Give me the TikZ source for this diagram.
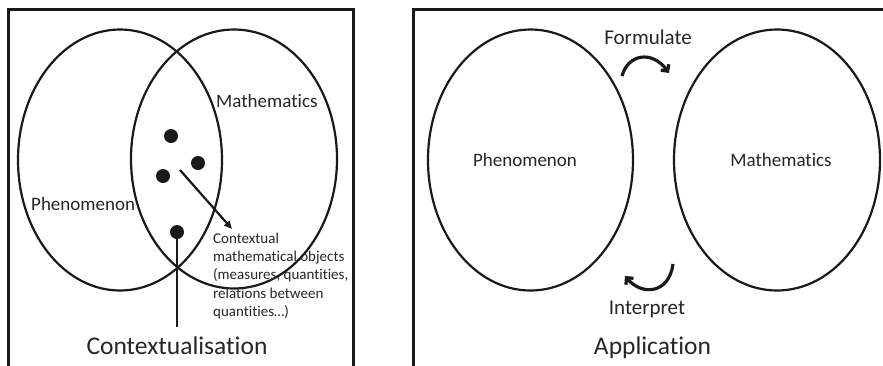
\documentclass[tikz,border=0pt]{standalone}
\usepackage{fontspec}
\setmainfont{Carlito}[Ligatures={NoCommon,NoRequired,NoContextual}]
\usetikzlibrary{shapes.geometric,arrows.meta}
\begin{document}
\begin{tikzpicture}[x=1pt,y=-1pt,
  frame/.style={line width=3pt, line join=miter, draw=black!90},
  blob/.style={ellipse, draw=black!90, line width=2.2pt, inner sep=0pt, outer sep=0pt},
  dotmark/.style={circle, fill=black!90, inner sep=0pt, minimum size=14pt},
  lbl/.style={font=\fontsize{19}{23}\selectfont, inner sep=0pt, text=black!85},
  small/.style={font=\fontsize{15}{18}\selectfont, inner sep=0pt, anchor=base west, text=black!85},
  verb/.style={font=\fontsize{21}{25}\selectfont, inner sep=0pt, anchor=base, text=black!85},
  title/.style={font=\fontsize{25.5}{30}\selectfont, inner sep=0pt, anchor=base, text=black!85},
  pointer/.style={line width=2.2pt, draw=black!90, -{Triangle[length=8pt,width=7pt]}},
  stem/.style={line width=2.8pt, draw=black!90},
  turn/.style={line width=3.2pt, draw=black!90, -{Straight Barb[angle=90:7pt,sharp]}}
]
\useasboundingbox (0,0) rectangle (883,365);
\clip (0,0) rectangle (883,365);
\fill[white] (0,0) rectangle (883,365);

% ---------- Contextualisation panel ----------
\draw[frame] (8,370) -- (8,9) -- (353,9) -- (353,370);

\node[blob, minimum width=204pt, minimum height=261pt] (phenL) at (120,160) {};
\node[blob, minimum width=206pt, minimum height=259pt] (mathL) at (234,159) {};

\node[lbl, anchor=base west] (mathLtxt) at (216,107) {Mathematics};
\node[lbl, anchor=base west] (phenLtxt) at (31,210) {Phenomenon};

\node[dotmark] (d1) at (171,136) {};
\node[dotmark] (d2) at (198,163) {};
\node[dotmark] (d3) at (163,176) {};
\node[dotmark] (d4) at (177,232) {};

\node[small] (ctx1) at (213,243) {Contextual};
\node[small] (ctx2) at (213,261.4) {mathematical objects};
\node[small] (ctx3) at (213,279.8) {(measures, quantities,};
\node[small] (ctx4) at (213,298.2) {relations between};
\node[small] (ctx5) at (213,316.6) {quantities…)};

\coordinate (ptrstart) at (180,170);
\coordinate (ptrend) at (232,229);
\draw[pointer] (ptrstart) -- (ptrend);

\coordinate (stemfoot) at (177,327);
\draw[stem] (d4.center) -- (stemfoot);

\node[title] (ctxtitle) at (177,354) {Contextualisation};

% ---------- Application panel ----------
\draw[frame] (413,370) -- (413,9) -- (890,9);

\node[blob, minimum width=205pt, minimum height=261pt] (phenR) at (530.5,160) {};
\node[blob, minimum width=206pt, minimum height=261pt] (mathR) at (777,160) {};

\node[lbl, anchor=base] (phenRtxt) at (525,166.5) {Phenomenon};
\node[lbl, anchor=base] (mathRtxt) at (781,166.5) {Mathematics};

\node[verb] (formulate) at (648,44) {Formulate};
\node[verb] (interpret) at (647,314) {Interpret};

\coordinate (fa) at (622,76);
\coordinate (fb) at (669,73);
\draw[turn] (fa) .. controls (628,54) and (652,50) .. (fb);

\coordinate (ia) at (673,264);
\coordinate (ib) at (625,276);
\draw[turn] (ia) .. controls (669,294) and (642,296) .. (ib);

\node[title] (apptitle) at (652.5,354) {Application};
\end{tikzpicture}
\end{document}
